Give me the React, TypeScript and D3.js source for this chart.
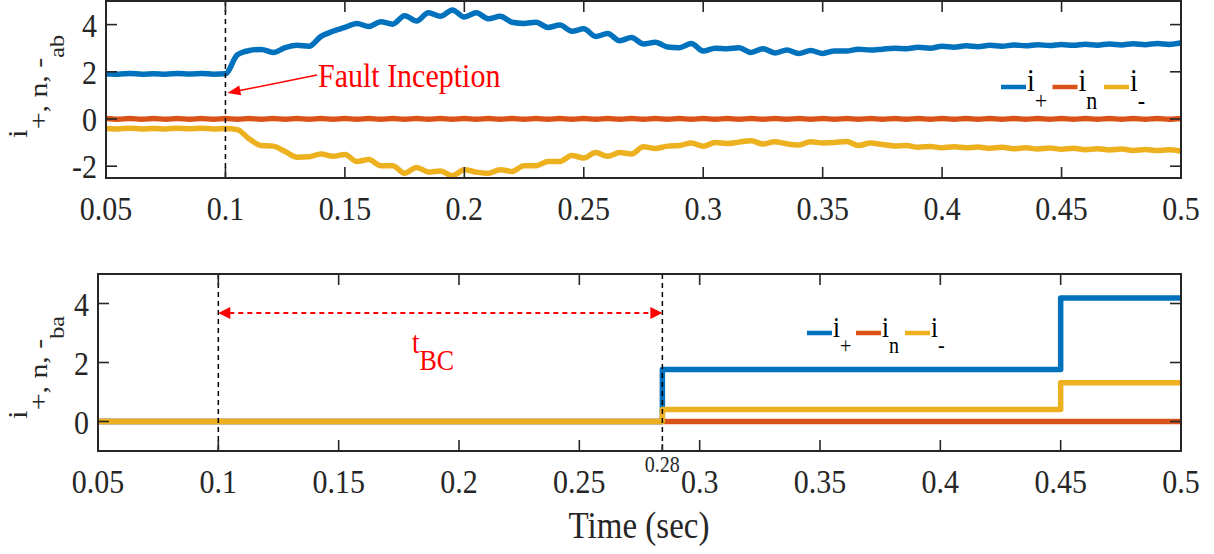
import React from 'react';
import * as d3 from 'd3';

// ---------- data ----------
const timeTop = [
  0.05, 0.055, 0.06, 0.065, 0.07, 0.075, 0.08, 0.085, 0.09, 0.095,
  0.1, 0.105, 0.11, 0.115, 0.12, 0.125, 0.13, 0.135, 0.14, 0.145,
  0.15, 0.155, 0.16, 0.165, 0.17, 0.175, 0.18, 0.185, 0.19, 0.195,
  0.2, 0.205, 0.21, 0.215, 0.22, 0.225, 0.23, 0.235, 0.24, 0.245,
  0.25, 0.255, 0.26, 0.265, 0.27, 0.275, 0.28, 0.285, 0.29, 0.295,
  0.3, 0.305, 0.31, 0.315, 0.32, 0.325, 0.33, 0.335, 0.34, 0.345,
  0.35, 0.355, 0.36, 0.365, 0.37, 0.375, 0.38, 0.385, 0.39, 0.395,
  0.4, 0.405, 0.41, 0.415, 0.42, 0.425, 0.43, 0.435, 0.44, 0.445,
  0.45, 0.455, 0.46, 0.465, 0.47, 0.475, 0.48, 0.485, 0.49, 0.495, 0.5,
];
const iPlusAB = [
  1.92, 1.90, 1.93, 1.90, 1.92, 1.90, 1.93, 1.91, 1.93, 1.90,
  1.92, 2.72, 2.90, 2.95, 2.82, 3.02, 3.12, 3.08, 3.50, 3.72,
  3.88, 4.05, 3.92, 4.12, 4.02, 4.38, 4.15, 4.50, 4.35, 4.62,
  4.32, 4.50, 4.25, 4.35, 4.10, 4.05, 4.10, 3.88, 3.98, 3.72,
  3.82, 3.50, 3.62, 3.32, 3.45, 3.18, 3.25, 3.05, 3.02, 3.20,
  2.88, 3.00, 2.98, 3.02, 2.82, 2.98, 2.80, 2.92, 2.78, 2.90,
  2.78, 2.88, 2.88, 2.96, 2.92, 2.96, 3.00, 2.98, 3.04, 3.00,
  3.08, 3.04, 3.10, 3.06, 3.12, 3.08, 3.14, 3.10, 3.15, 3.11,
  3.16, 3.12, 3.17, 3.13, 3.18, 3.14, 3.19, 3.15, 3.20, 3.16, 3.22,
];
const iNAB = [
  0.02, -0.01, 0.02, -0.01, 0.02, -0.01, 0.02, -0.01, 0.02, -0.01,
  0.02, -0.01, 0.02, -0.01, 0.02, -0.01, 0.02, -0.01, 0.02, -0.01,
  0.02, -0.01, 0.02, -0.01, 0.02, -0.01, 0.02, -0.01, 0.02, -0.01,
  0.02, -0.01, 0.02, -0.01, 0.02, -0.01, 0.02, -0.01, 0.02, -0.01,
  0.02, -0.01, 0.02, -0.01, 0.02, -0.01, 0.02, -0.01, 0.02, -0.01,
  0.02, -0.01, 0.02, -0.01, 0.02, -0.01, 0.02, -0.01, 0.02, -0.01,
  0.02, -0.01, 0.02, -0.01, 0.02, -0.01, 0.02, -0.01, 0.02, -0.01,
  0.02, -0.01, 0.02, -0.01, 0.02, -0.01, 0.02, -0.01, 0.02, -0.01,
  0.02, -0.01, 0.02, -0.01, 0.02, -0.01, 0.02, -0.01, 0.02, -0.01, 0.02,
];
const iMinusAB = [
  -0.40, -0.42, -0.39, -0.42, -0.40, -0.42, -0.39, -0.41, -0.39, -0.42,
  -0.40, -0.45, -0.85, -1.12, -1.15, -1.38, -1.62, -1.60, -1.48, -1.58,
  -1.50, -1.80, -1.72, -1.98, -1.98, -2.30, -2.05, -2.25, -2.20, -2.40,
  -2.15, -2.25, -2.30, -2.15, -2.22, -1.98, -1.98, -1.80, -1.80, -1.55,
  -1.65, -1.42, -1.58, -1.42, -1.48, -1.18, -1.25, -1.15, -1.12, -1.02,
  -1.15, -1.00, -1.04, -0.98, -0.92, -1.06, -0.96, -1.05, -1.10, -0.96,
  -1.02, -1.00, -0.95, -1.12, -1.02, -1.08, -1.14, -1.12, -1.20, -1.16,
  -1.22, -1.18, -1.22, -1.19, -1.24, -1.20, -1.26, -1.22, -1.27, -1.23,
  -1.28, -1.24, -1.30, -1.26, -1.31, -1.27, -1.33, -1.29, -1.34, -1.30, -1.36,
];

const timeBot = [0.05, 0.2845, 0.45, 0.5];
const iPlusBA = [0, 1.76, 4.19, 4.19];
const iNBA = [0, 0, 0, 0];
const iMinusBA = [0, 0.41, 1.31, 1.31];

const xTicks = [0.05, 0.1, 0.15, 0.2, 0.25, 0.3, 0.35, 0.4, 0.45, 0.5];
const xTickLabels = ['0.05', '0.1', '0.15', '0.2', '0.25', '0.3', '0.35', '0.4', '0.45', '0.5'];
const yTicksTop = [-2, 0, 2, 4];
const yTicksBot = [0, 2, 4];
const legendSubs = ['+', 'n', '-'];
const faultTime = 0.1;
const tripTime = 0.2845;
const tripTickLabel = '0.28';
const arrowLevel = 3.68;

const seriesColors = ['#0072BD', '#D95319', '#EDB120'];

// ---------- style ----------
const FONT = '"Liberation Serif", "Times New Roman", Times, serif';
const AX = '#262626';
const SY = 1.15;
const TICK = 11;

function T({ x, y, size, anchor = 'start', fill = AX, children }: any) {
  return (
    <text
      transform={`translate(${x},${y}) scale(1,${SY})`}
      fontSize={size}
      textAnchor={anchor}
      fill={fill}
      fontFamily={FONT}
    >
      {children}
    </text>
  );
}

function Axes({ x, y, yTicks, yLabelX, yLabelY, sub2, minorTick }: any) {
  const [x0, x1] = x.range();
  const [y1, y0] = y.range();
  return (
    <g>
      <rect x={x0} y={y0} width={x1 - x0} height={y1 - y0} fill="none" stroke={AX} strokeWidth={2} />
      {xTicks.map((t: number, i: number) => (
        <g key={'xt' + i}>
          <line x1={x(t)} x2={x(t)} y1={y1} y2={y1 - TICK} stroke={AX} strokeWidth={1.6} />
          <line x1={x(t)} x2={x(t)} y1={y0} y2={y0 + TICK} stroke={AX} strokeWidth={1.6} />
          <T x={x(t)} y={y1 + 42} size={30} anchor="middle">{xTickLabels[i]}</T>
        </g>
      ))}
      {minorTick != null && (
        <g>
          <line x1={x(minorTick)} x2={x(minorTick)} y1={y1} y2={y1 - 7} stroke={AX} strokeWidth={1.6} />
          <T x={x(minorTick)} y={y1 + 21} size={20} anchor="middle">{tripTickLabel}</T>
        </g>
      )}
      {yTicks.map((v: number, i: number) => (
        <g key={'yt' + i}>
          <line x1={x0} x2={x0 + TICK} y1={y(v)} y2={y(v)} stroke={AX} strokeWidth={1.6} />
          <line x1={x1} x2={x1 - TICK} y1={y(v)} y2={y(v)} stroke={AX} strokeWidth={1.6} />
          <T x={x0 - 9} y={y(v) + 12} size={30} anchor="end">{String(v)}</T>
        </g>
      ))}
      <text
        transform={`translate(${yLabelX},${yLabelY}) rotate(-90) scale(${SY},1)`}
        fontFamily={FONT}
        fill={AX}
      >
        <tspan fontSize={27}>i</tspan>
        <tspan fontSize={26} dy={20}>+, n, -</tspan>
        <tspan fontSize={21} dy={17}>{sub2}</tspan>
      </text>
    </g>
  );
}

function Legend({ x, y, spacing, iSize, subSize, subDy }: any) {
  return (
    <g>
      {legendSubs.map((s, i) => (
        <g key={s}>
          <line x1={x + i * spacing} x2={x + i * spacing + 25} y1={y} y2={y} stroke={seriesColors[i]} strokeWidth={4.5} />
          <text
            transform={`translate(${x + i * spacing + 26},${y + 4}) scale(1,${SY})`}
            fontFamily={FONT}
            fill="#000"
          >
            <tspan fontSize={iSize}>i</tspan>
            <tspan fontSize={subSize} dy={subDy}>{s}</tspan>
          </text>
        </g>
      ))}
    </g>
  );
}

export default function App() {
  const xTop = d3.scaleLinear().domain([0.05, 0.5]).range([106, 1181]);
  const yTop = d3.scaleLinear().domain([-2.5, 5]).range([178, 1]);
  const xBot = d3.scaleLinear().domain([0.05, 0.5]).range([98, 1181]);
  const yBot = d3.scaleLinear().domain([-1, 5]).range([451, 274]);

  const lineTop = (vals: number[]) =>
    d3.line<number>().x((_, i) => xTop(timeTop[i])).y((d) => yTop(d)).curve(d3.curveMonotoneX)(vals) || '';
  const lineBot = (vals: number[]) =>
    d3.line<number>().x((_, i) => xBot(timeBot[i])).y((d) => yBot(d)).curve(d3.curveStepAfter)(vals) || '';

  const topSeries = [iPlusAB, iNAB, iMinusAB];
  const botSeries = [iPlusBA, iNBA, iMinusBA];

  const tipX = xTop(faultTime) + 2;
  const tipY = 93;
  const tailX = 317;
  const tailY = 75;
  const ang = Math.atan2(tailY - tipY, tailX - tipX);
  const ah = (tx: number, ty: number, a: number, len: number, w: number) => {
    const bx = tx + Math.cos(a) * len;
    const by = ty + Math.sin(a) * len;
    const px = -Math.sin(a) * w;
    const py = Math.cos(a) * w;
    return `M${tx},${ty}L${bx + px},${by + py}L${bx - px},${by - py}Z`;
  };

  const aY = yBot(arrowLevel);
  const aX0 = xBot(faultTime);
  const aX1 = xBot(tripTime);

  return (
    <svg width={1214} height={554} style={{ position: 'absolute', left: 0, top: 0, background: '#fff' }}>
      <defs>
        <clipPath id="clipTop">
          <rect x={106} y={1} width={1075} height={177} />
        </clipPath>
        <clipPath id="clipBot">
          <rect x={98} y={274} width={1083} height={177} />
        </clipPath>
      </defs>

      <g clipPath="url(#clipTop)">
        {topSeries.map((s, i) => (
          <path key={i} d={lineTop(s)} fill="none" stroke={seriesColors[i]} strokeWidth={5.5} strokeLinejoin="round" />
        ))}
      </g>
      <line x1={xTop(faultTime)} x2={xTop(faultTime)} y1={1} y2={178} stroke="#000" strokeWidth={1.5} strokeDasharray="5,4" />
      <Axes x={xTop} y={yTop} yTicks={yTicksTop} yLabelX={27} yLabelY={138} sub2="ab" />
      <Legend x={1001} y={87} spacing={51.5} iSize={28} subSize={22} subDy={16} />
      <line x1={tailX} y1={tailY} x2={tipX + Math.cos(ang) * 10} y2={tipY + Math.sin(ang) * 10} stroke="#ff0000" strokeWidth={1.5} />
      <path d={ah(tipX, tipY, ang, 13, 5)} fill="#ff0000" />
      <T x={318} y={87} size={30} fill="#ff0000">Fault Inception</T>

      <g clipPath="url(#clipBot)">
        {botSeries.map((s, i) => (
          <path key={i} d={lineBot(s)} fill="none" stroke={seriesColors[i]} strokeWidth={5.5} strokeLinejoin="round" />
        ))}
      </g>
      <line x1={xBot(faultTime)} x2={xBot(faultTime)} y1={274} y2={451} stroke="#000" strokeWidth={1.5} strokeDasharray="5,4" />
      <line x1={xBot(tripTime)} x2={xBot(tripTime)} y1={274} y2={451} stroke="#000" strokeWidth={1.5} strokeDasharray="5,4" />
      <Axes x={xBot} y={yBot} yTicks={yTicksBot} yLabelX={27} yLabelY={419} sub2="ba" minorTick={tripTime} />
      <Legend x={807} y={333} spacing={49} iSize={25} subSize={20} subDy={14} />
      <line x1={aX0 + 11} x2={aX1 - 11} y1={aY} y2={aY} stroke="#ff0000" strokeWidth={2} strokeDasharray="5,4" />
      <path d={ah(aX0, aY, 0, 12, 6)} fill="#ff0000" />
      <path d={ah(aX1, aY, Math.PI, 12, 6)} fill="#ff0000" />
      <text transform={`translate(412,353) scale(1,${SY})`} fontFamily={FONT} fill="#ff0000">
        <tspan fontSize={27}>t</tspan>
        <tspan fontSize={26} dy={15}>BC</tspan>
      </text>

      <T x={639} y={538} size={33} anchor="middle">Time (sec)</T>
    </svg>
  );
}
